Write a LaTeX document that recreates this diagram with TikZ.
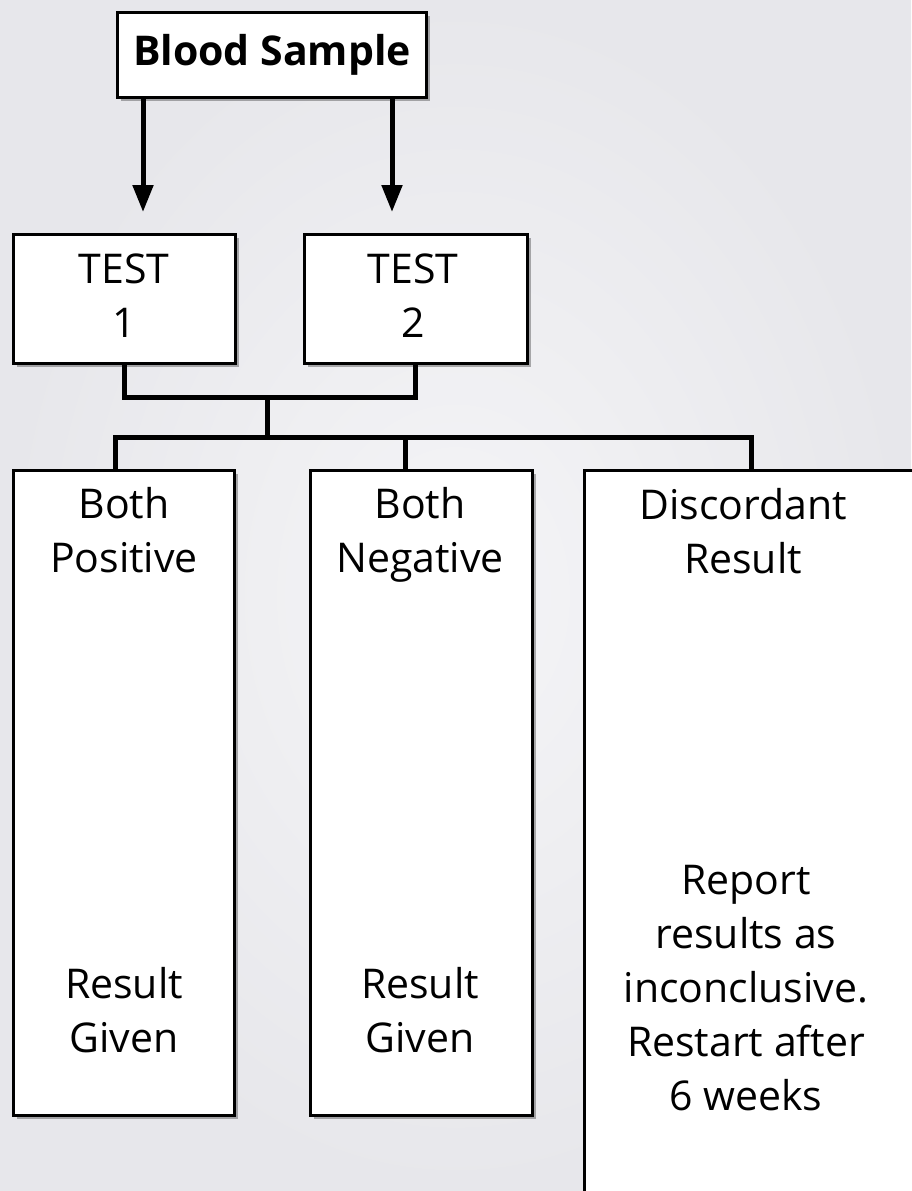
\documentclass[tikz,border=0pt]{standalone}
\usepackage{fontspec}
\setmainfont{Open Sans}
\usetikzlibrary{arrows.meta,shadows}
\definecolor{marble}{RGB}{231,231,235}
\definecolor{marblelight}{RGB}{245,245,247}

\tikzset{
  box/.style={draw, line width=3pt, fill=white, inner sep=0pt,
    drop shadow={shadow xshift=4pt, shadow yshift=-4pt, fill=black, opacity=.3}},
  conn/.style={line width=5pt},
  arr/.style={line width=5pt, -{Triangle[width=20pt,length=27pt]}},
  txt/.style={font=\fontsize{41}{54}\selectfont, align=center, anchor=base}
}

\begin{document}
\begin{tikzpicture}[x=1pt,y=-1pt]
        % Background
        \shade[inner color=marblelight, outer color=marble] (0,0) rectangle (911,1191);
        \useasboundingbox (0,0) rectangle (911,1191);

        % Boxes
        \node[box, minimum width=309pt, minimum height=85pt] (blood) at (271.5,54.5) {};
        \node[box, minimum width=222pt, minimum height=129pt] (test1) at (124,298.5) {};
        \node[box, minimum width=223pt, minimum height=129pt] (test2) at (415.5,298.5) {};
        \node[box, minimum width=221pt, minimum height=645pt] (pos) at (123.5,792.5) {};
        \node[box, minimum width=222pt, minimum height=645pt] (neg) at (421,792.5) {};
        \node[box, minimum width=360pt, minimum height=760pt] (disc) at (764,850) {};

        % Texts (base = last line)
        \node[txt, font=\fontsize{41}{54}\selectfont\bfseries] (bloodtxt) at (272,65) {Blood Sample};
        \node[txt] (test1txt) at (124,337) {TEST\\1};
        \node[txt] (test2txt) at (413,337) {TEST\\2};
        \node[txt] (postop) at (124,572) {Both\\Positive};
        \node[txt] (posbot) at (124,1052) {Result\\Given};
        \node[txt] (negtop) at (420,572) {Both\\Negative};
        \node[txt] (negbot) at (420,1052) {Result\\Given};
        \node[txt] (disctop) at (743,573) {Discordant\\Result};
        \node[txt] (discbot) at (746,1110) {Report\\results as\\inconclusive.\\Restart after\\6 weeks};

        % Arrows from the sample
        \coordinate (tip1) at (143,212);
        \coordinate (tip2) at (392,212);
        \draw[arr] (tip1 |- blood.south) -- (tip1);
        \draw[arr] (tip2 |- blood.south) -- (tip2);

        % Joining the two tests
        \coordinate (join) at (267,397);
        \coordinate (bus) at (267,437);
        \draw[conn] (test1.south) |- (join) -| (test2.south);
        \draw[conn] (join) -- (bus);

        % Splitting into the three outcomes
        \coordinate (posin) at (115,470);
        \coordinate (negin) at (405,470);
        \coordinate (discin) at (751,470);
        \draw[conn] (posin) |- (bus) -| (discin);
        \draw[conn] (negin) -- (negin |- bus);
\end{tikzpicture}
\end{document}
